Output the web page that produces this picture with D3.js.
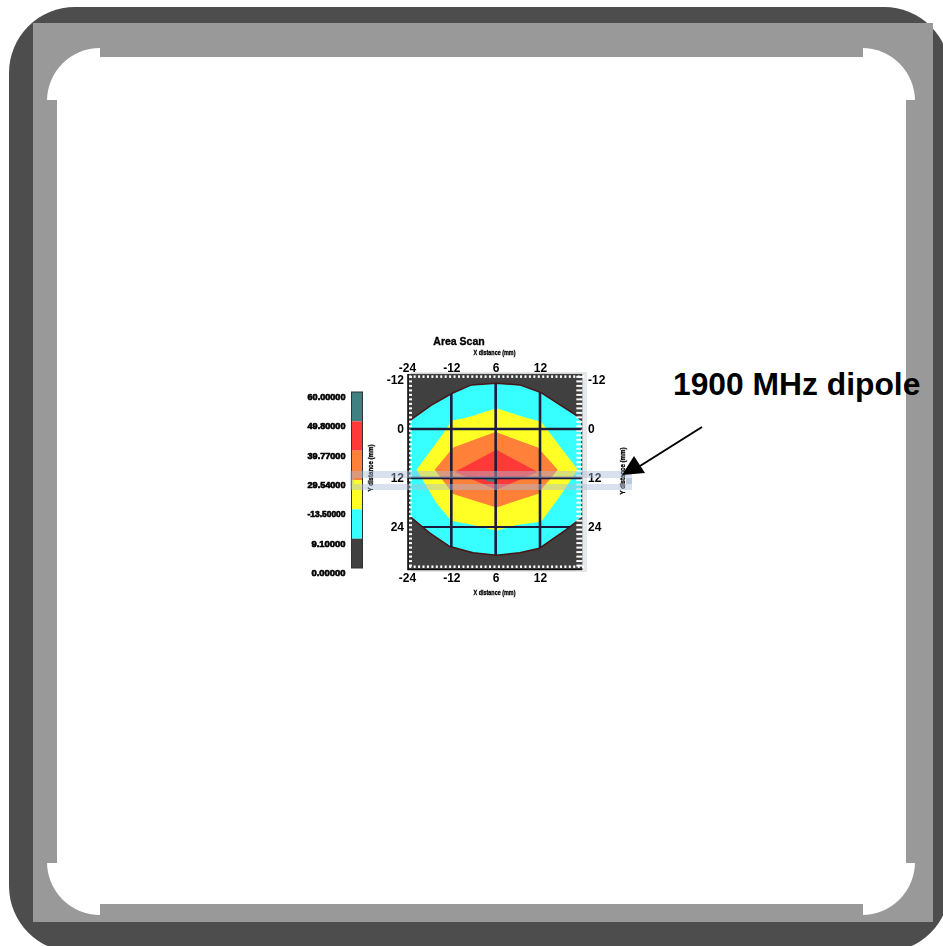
<!DOCTYPE html>
<html>
<head>
<meta charset="utf-8">
<script src="https://cdnjs.cloudflare.com/ajax/libs/d3/7.8.5/d3.min.js"></script>
<style>
html,body{margin:0;padding:0;background:#fff;overflow:hidden}
svg{display:block}
text{font-family:"Liberation Sans",Arial,sans-serif;fill:#000}
</style>
</head>
<body>
<svg id="c" width="943" height="946"></svg>
<script>
// ---------- data ----------
const chartTitle = "Area Scan";
const xAxisLabel = "X distance (mm)";
const yAxisLabel = "Y distance (mm)";
const annotationText = "1900 MHz dipole";
const xTickValues = [-24, -12, 0, 12];
const xTickLabels = ["-24", "-12", "6", "12"];
const yTickValues = [-12, 0, 12, 24];
const yTickLabels = ["-12", "0", "12", "24"];
const gridX = [-12, 0, 12];
const gridY = [0, 12, 24];
const legendColors = ["#408080", "#ff3838", "#ff8038", "#ffff28", "#38ffff", "#404040"];
const legendLabels = ["60.00000", "49.80000", "39.77000", "29.54000", "-13.50000", "9.10000", "0.00000"];

// contour bands, [x mm, y mm], outermost first
const cyanTop = [[-23.1,-2.2],[-17.5,-5.8],[-11.9,-8.7],[-6.6,-10.8],[0.2,-11.2],[6.5,-10.8],[12.3,-8.9],[21.7,-3.4],[23.1,-2.2]];
const cyanBottom = [[23.1,21.9],[19,24.7],[11.9,29.2],[6.5,30.3],[0.2,30.9],[-6.1,30.3],[-12.4,28.8],[-17.8,25.5],[-23.1,21.5]];
const cyanBand = cyanTop.concat(cyanBottom);
const yellowBand = [[-21.4,10],[-14.2,1.1],[-11.9,-2],[-7,-3],[0.2,-5.1],[7.4,-3],[12.3,-1.8],[22.2,9.9],[17.3,16.6],[12.3,22.7],
  [5.6,23.5],[0.2,24.9],[-6.1,23.5],[-11.9,22.5],[-16,18.2]];
const orangeBand = [[-16.5,10],[-11.5,4.5],[-0.3,0.8],[0.2,0.8],[11.4,4.5],[16.8,10],[11.4,15.9],[0.2,19.2],[-11.5,15.9]];
const redBand = [[-11.1,10.5],[0.2,5.1],[11.4,10.5],[0.2,14.9]];
const tealBand = [[-3.8,12],[-0.2,11.7],[0,13],[-2,12.8]];
const bands = [
  {pts: cyanBand, color: legendColors[4]},
  {pts: yellowBand, color: legendColors[3]},
  {pts: orangeBand, color: legendColors[2]},
  {pts: redBand, color: legendColors[1]},
  {pts: tealBand, color: legendColors[0]}
];

// ---------- scales ----------
const x = d3.scaleLinear().domain([-24, 12]).range([407, 540]);
const y = d3.scaleLinear().domain([-12, 24]).range([380, 527]);
const legendY = d3.scaleBand().domain(d3.range(legendColors.length)).range([392, 568]);
const legendTickY = d3.scaleLinear().domain([0, legendLabels.length - 1]).range([397, 573]);
const line = d3.line().x(d => x(d[0])).y(d => y(d[1])).curve(d3.curveLinearClosed);
const openLine = d3.line().x(d => x(d[0])).y(d => y(d[1]));

const svg = d3.select("#c");
const defs = svg.append("defs");
defs.append("filter").attr("id", "soft").attr("x", "-5%").attr("y", "-5%").attr("width", "110%").attr("height", "110%")
  .append("feGaussianBlur").attr("stdDeviation", 0.75);
defs.append("clipPath").attr("id", "cyanClip").append("path").attr("d", line(cyanBand));

// ---------- frame ----------
const frame = svg.append("g");
frame.append("rect").attr("x", 9).attr("y", 7).attr("width", 941).attr("height", 945).attr("rx", 66).attr("fill", "#4d4d4d");
frame.append("rect").attr("x", 33).attr("y", 23).attr("width", 900).attr("height", 899).attr("fill", "#999");
frame.append("rect").attr("x", 47).attr("y", 48).attr("width", 868).attr("height", 867).attr("rx", 53).attr("fill", "#fff");
frame.append("rect").attr("x", 100).attr("y", 46).attr("width", 763).attr("height", 11).attr("fill", "#999");
frame.append("rect").attr("x", 100).attr("y", 904).attr("width", 763).attr("height", 12).attr("fill", "#999");
frame.append("rect").attr("x", 45).attr("y", 100).attr("width", 12).attr("height", 763).attr("fill", "#999");
frame.append("rect").attr("x", 906).attr("y", 100).attr("width", 11).attr("height", 763).attr("fill", "#999");

// ---------- chart ----------
const chart = svg.append("g").attr("filter", "url(#soft)");

// light drop shadow of the plot box
chart.append("rect").attr("x", 411).attr("y", 372).attr("width", 176).attr("height", 200).attr("fill", "#e6e9eb");
// plot box
const xL = x(-24) + 1, xR = x(24) - 2, yT = y(-13.5), yB = y(34.4);
chart.append("rect").attr("x", xL).attr("y", yT).attr("width", xR - xL).attr("height", yB - yT).attr("fill", "#404040");

// contours
chart.append("g").selectAll("path").data(bands).join("path")
  .attr("d", d => line(d.pts))
  .attr("fill", d => d.color);
chart.append("g").selectAll("path").data([cyanTop, cyanBottom]).join("path")
  .attr("d", d => openLine(d)).attr("fill", "none").attr("stroke", "#4a1414").attr("stroke-width", 1.5);

// tick combs, over the contours
const xs = d3.range(-23.4, 23.6, 1.2);
const ys = d3.range(-13, 34.4, 1.1);
chart.append("g").selectAll("rect").data(xs).join("rect")
  .attr("x", d => x(d)).attr("y", yT + 1.5).attr("width", 2).attr("height", 2.5).attr("fill", "#fff");
chart.append("g").selectAll("rect").data(xs).join("rect")
  .attr("x", d => x(d)).attr("y", yB - 4).attr("width", 2).attr("height", 2.5).attr("fill", "#fff");
chart.append("g").selectAll("rect").data(ys).join("rect")
  .attr("x", xL + 1).attr("y", d => y(d)).attr("width", 3).attr("height", 2).attr("fill", "#fff");
chart.append("g").selectAll("rect").data(ys).join("rect")
  .attr("x", xR - 6).attr("y", d => y(d)).attr("width", 6).attr("height", 2).attr("fill", "#fff");
chart.append("path").attr("d", `M${xL},${yT}V${yB}H${xR}`).attr("fill", "none").attr("stroke", "#111").attr("stroke-width", 1.6);

// grid, clipped to the outer contour
const grid = chart.append("g").attr("clip-path", "url(#cyanClip)");
grid.selectAll("line.v").data(gridX).join("line").attr("class", "v")
  .attr("x1", d => x(d)).attr("x2", d => x(d)).attr("y1", y(-14)).attr("y2", y(35))
  .attr("stroke", "#1c1c3c").attr("stroke-width", 2.6);
grid.selectAll("line.h").data(gridY).join("line").attr("class", "h")
  .attr("y1", d => y(d)).attr("y2", d => y(d)).attr("x1", x(-24)).attr("x2", x(24))
  .attr("stroke", "#1c1c3c").attr("stroke-width", d => d === 24 ? 1.8 : 2.6);

// axes tick labels
function labelAxis(axis, vals, labels, tx, ty) {
  const g = chart.append("g").attr("transform", `translate(${tx},${ty})`)
    .call(axis.tickValues(vals).tickSize(0).tickPadding(0).tickFormat((d, i) => labels[i]));
  g.select(".domain").remove();
  g.selectAll("text").attr("font-size", 12).attr("font-weight", "bold")
    .style("font-family", '"Liberation Sans",Arial,sans-serif').attr("fill", "#000");
}
labelAxis(d3.axisTop(x), xTickValues, xTickLabels, 0, 372);
labelAxis(d3.axisBottom(x), xTickValues, xTickLabels, 0, 573);
labelAxis(d3.axisLeft(y), yTickValues, yTickLabels, 404, 0);
labelAxis(d3.axisRight(y), yTickValues, yTickLabels, 588, 0);

// titles
function heavy(sel, w) { return sel.attr("stroke", "#000").attr("stroke-width", w || 0.35); }
heavy(chart.append("text").attr("x", 459).attr("y", 345).attr("text-anchor", "middle")
  .attr("font-size", 10.5).attr("font-weight", "bold").text(chartTitle));
heavy(chart.append("text").attr("x", 494.5).attr("y", 355).attr("text-anchor", "middle")
  .attr("font-size", 8).attr("font-weight", "bold").attr("textLength", 42).attr("lengthAdjust", "spacingAndGlyphs").text(xAxisLabel));
heavy(chart.append("text").attr("x", 494.5).attr("y", 595).attr("text-anchor", "middle")
  .attr("font-size", 8).attr("font-weight", "bold").attr("textLength", 42).attr("lengthAdjust", "spacingAndGlyphs").text(xAxisLabel));
heavy(chart.append("text").attr("transform", "translate(373,468) rotate(-90)").attr("text-anchor", "middle")
  .attr("font-size", 8).attr("font-weight", "bold").attr("textLength", 47).attr("lengthAdjust", "spacingAndGlyphs").text(yAxisLabel));
heavy(chart.append("text").attr("transform", "translate(625,471) rotate(-90)").attr("text-anchor", "middle")
  .attr("font-size", 8).attr("font-weight", "bold").attr("textLength", 47).attr("lengthAdjust", "spacingAndGlyphs").text(yAxisLabel));

// legend
chart.append("g").selectAll("rect").data(legendColors).join("rect")
  .attr("x", 351.5).attr("width", 11).attr("y", (d, i) => legendY(i)).attr("height", legendY.bandwidth())
  .attr("fill", d => d);
chart.append("rect").attr("x", 351.5).attr("y", 392).attr("width", 11).attr("height", 176)
  .attr("fill", "none").attr("stroke", "#333").attr("stroke-width", 1);
heavy(chart.append("g").selectAll("text").data(legendLabels).join("text")
  .attr("x", 345.5).attr("y", (d, i) => legendTickY(i) + 3)
  .attr("text-anchor", "end").attr("font-size", 8.2).attr("font-weight", "bold")
  .attr("textLength", (d, i) => i >= 5 ? 34 : 38).attr("lengthAdjust", "spacingAndGlyphs").text(d => d), 0.6);

// dipole overlay
const dipole = chart.append("g").attr("fill", "#a9bdd6").attr("fill-opacity", 0.45);
dipole.append("rect").attr("x", 350).attr("y", 471).attr("width", 282).attr("height", 7);
dipole.append("rect").attr("x", 350).attr("y", 484).attr("width", 282).attr("height", 6);
dipole.append("rect").attr("x", 350).attr("y", 478).attr("width", 4).attr("height", 6);
dipole.append("rect").attr("x", 626).attr("y", 478).attr("width", 6).attr("height", 6).attr("fill-opacity", 0.8);

// ---------- annotation ----------
const note = svg.append("g");
note.append("text").attr("x", 673).attr("y", 395).attr("font-size", 31.8).attr("font-weight", "bold").text(annotationText);
note.append("line").attr("x1", 702).attr("y1", 427).attr("x2", 640).attr("y2", 466)
  .attr("stroke", "#000").attr("stroke-width", 2);
note.append("path").attr("d", "M622,475L634,456L645,473Z").attr("fill", "#000");
</script>
</body>
</html>
